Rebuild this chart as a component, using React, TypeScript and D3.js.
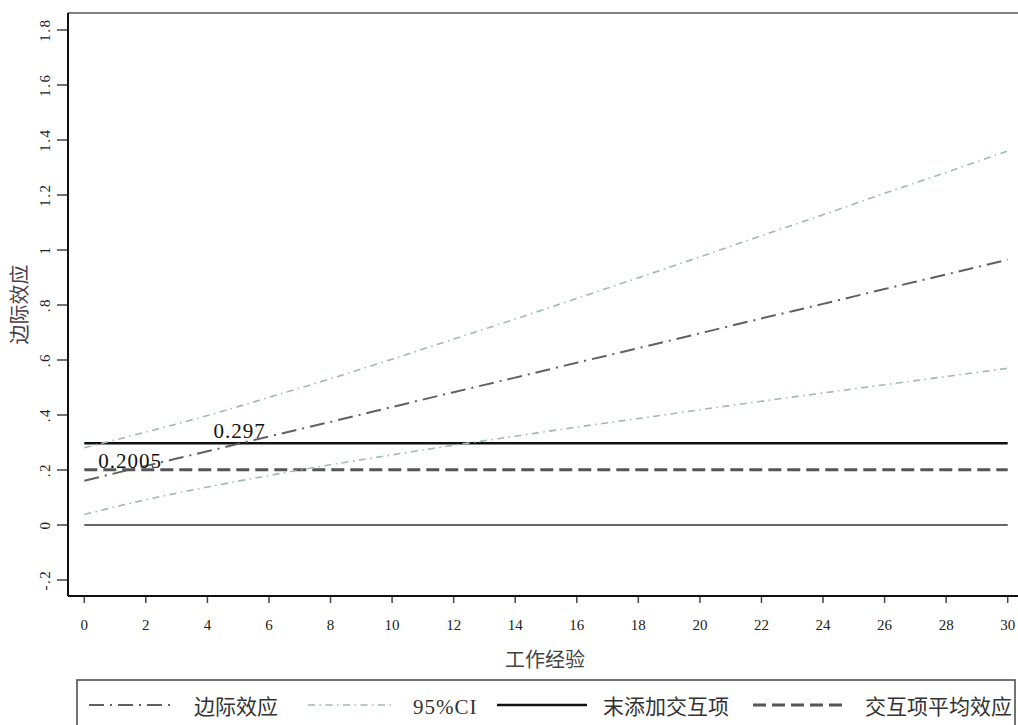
import { useMemo } from "react";
import * as d3 from "d3";

const WIDTH = 1018;
const HEIGHT = 725;
const PLOT = { left: 68, top: 13, right: 1020, bottom: 596 };

// work experience (years) at which the effect was read
const experience = [0, 2, 4, 6, 8, 10, 12, 14, 16, 18, 20, 22, 24, 26, 28, 30];
const marginalEffect = [0.161, 0.215, 0.268, 0.322, 0.375, 0.429, 0.483, 0.536, 0.59, 0.643, 0.697, 0.751, 0.804, 0.858, 0.911, 0.965];
const ciUpper = [0.281, 0.338, 0.398, 0.464, 0.532, 0.603, 0.676, 0.749, 0.824, 0.899, 0.975, 1.052, 1.128, 1.206, 1.282, 1.36];
const ciLower = [0.038, 0.092, 0.138, 0.18, 0.219, 0.255, 0.29, 0.323, 0.356, 0.387, 0.419, 0.45, 0.48, 0.51, 0.54, 0.57];

const noInteraction = 0.297;
const avgInteraction = 0.2005;

const xTicks = [0, 2, 4, 6, 8, 10, 12, 14, 16, 18, 20, 22, 24, 26, 28, 30];
const yTicks = [-0.2, 0, 0.2, 0.4, 0.6, 0.8, 1, 1.2, 1.4, 1.6, 1.8];
const yTickLabels = ["-.2", "0", ".2", ".4", ".6", ".8", "1", "1.2", "1.4", "1.6", "1.8"];

const legendItems = [
  { label: "边际效应", stroke: "#606060", width: 2, dash: "15 6 2 6", x1: 89, x2: 173, tx: 194 },
  { label: "95%CI", stroke: "#a3b8b0", width: 1.6, dash: "7 4.5 1.5 4.5", x1: 308, x2: 393, tx: 413 },
  { label: "末添加交互项", stroke: "#111", width: 2.5, dash: null, x1: 497, x2: 587, tx: 603 },
  { label: "交互项平均效应", stroke: "#555", width: 3, dash: "13 6", x1: 753, x2: 845, tx: 865 },
];

const SERIF = "'Liberation Serif', 'DejaVu Serif', serif";
const CJK = "'Noto Sans CJK SC', 'Noto Sans', sans-serif";

export default function App() {
  const x = useMemo(() => d3.scaleLinear().domain([0, 30]).range([84.3, 1007.7]), []);
  const y = useMemo(() => d3.scaleLinear().domain([0, 1.8]).range([525, 30]), []);

  const makeLine = (values: number[]) =>
    d3
      .line<number>()
      .x((_, i) => x(experience[i]))
      .y((v) => y(v))
      .curve(d3.curveMonotoneX)(values) ?? "";

  const x0 = x(0);
  const x1 = x(30);

  return (
    <svg
      width={WIDTH}
      height={HEIGHT}
      style={{ position: "absolute", left: 0, top: 0, background: "#fff" }}
    >
      <rect x={0} y={0} width={WIDTH} height={HEIGHT} fill="#fff" />

      {/* frame */}
      <line x1={PLOT.left} x2={PLOT.right} y1={PLOT.top} y2={PLOT.top} stroke="#555" strokeWidth={1.5} />
      <line x1={PLOT.left} x2={PLOT.left} y1={PLOT.top} y2={PLOT.bottom} stroke="#111" strokeWidth={2} />
      <line x1={PLOT.left} x2={PLOT.right} y1={PLOT.bottom} y2={PLOT.bottom} stroke="#111" strokeWidth={2} />

      {/* y axis */}
      {yTicks.map((t, i) => (
        <g key={`y${t}`}>
          <line x1={57} x2={67} y1={y(t)} y2={y(t)} stroke="#444" strokeWidth={1.5} />
          <text
            transform={`translate(50,${y(t)}) rotate(-90)`}
            textAnchor="middle"
            fontFamily={SERIF}
            fontSize={15}
            letterSpacing={1.5}
            fill="#222"
          >
            {yTickLabels[i]}
          </text>
        </g>
      ))}
      <text
        transform={`translate(27,${(PLOT.top + PLOT.bottom) / 2}) rotate(-90)`}
        textAnchor="middle"
        fontFamily={CJK}
        fontSize={20}
        fill="#4a3d4a"
      >
        边际效应
      </text>

      {/* x axis */}
      {xTicks.map((t) => (
        <g key={`x${t}`}>
          <line x1={x(t)} x2={x(t)} y1={597} y2={603} stroke="#444" strokeWidth={1.5} />
          <text x={x(t)} y={630} textAnchor="middle" fontFamily={SERIF} fontSize={15} fill="#222">
            {t}
          </text>
        </g>
      ))}
      <text x={545} y={667} textAnchor="middle" fontFamily={CJK} fontSize={20} fill="#444">
        工作经验
      </text>

      {/* reference lines */}
      <line x1={x0} x2={x1} y1={y(0)} y2={y(0)} stroke="#333" strokeWidth={1.5} />
      <line x1={x0} x2={x1} y1={y(noInteraction)} y2={y(noInteraction)} stroke="#111" strokeWidth={2.5} />
      <line
        x1={x0}
        x2={x1}
        y1={y(avgInteraction)}
        y2={y(avgInteraction)}
        stroke="#555"
        strokeWidth={3}
        strokeDasharray="13 6"
      />

      {/* CI and marginal effect */}
      <path d={makeLine(ciUpper)} fill="none" stroke="#a3b8b0" strokeWidth={1.6} strokeDasharray="7 4.5 1.5 4.5" />
      <path d={makeLine(ciLower)} fill="none" stroke="#a3b8b0" strokeWidth={1.6} strokeDasharray="7 4.5 1.5 4.5" />
      <path d={makeLine(marginalEffect)} fill="none" stroke="#606060" strokeWidth={2} strokeDasharray="15 6 2 6" />

      {/* value labels */}
      <text x={x(4.2)} y={y(noInteraction) - 5} fontFamily={SERIF} fontSize={21} letterSpacing={1} fill="#111">
        {noInteraction}
      </text>
      <text x={x(0.45)} y={y(avgInteraction) - 2} fontFamily={SERIF} fontSize={21} letterSpacing={1} fill="#111">
        {avgInteraction}
      </text>

      {/* legend */}
      <rect x={77} y={680} width={938} height={60} fill="none" stroke="#444" strokeWidth={1.5} />
      {legendItems.map((item) => (
        <g key={item.label}>
          <line
            x1={item.x1}
            x2={item.x2}
            y1={705}
            y2={705}
            stroke={item.stroke}
            strokeWidth={item.width}
            strokeDasharray={item.dash ?? undefined}
          />
          <text
            x={item.tx}
            y={714}
            fontFamily={item.label === "95%CI" ? SERIF : CJK}
            fontSize={item.label === "95%CI" ? 21 : 21}
            letterSpacing={item.label === "95%CI" ? 1 : 0}
            fill="#333"
          >
            {item.label}
          </text>
        </g>
      ))}
    </svg>
  );
}
